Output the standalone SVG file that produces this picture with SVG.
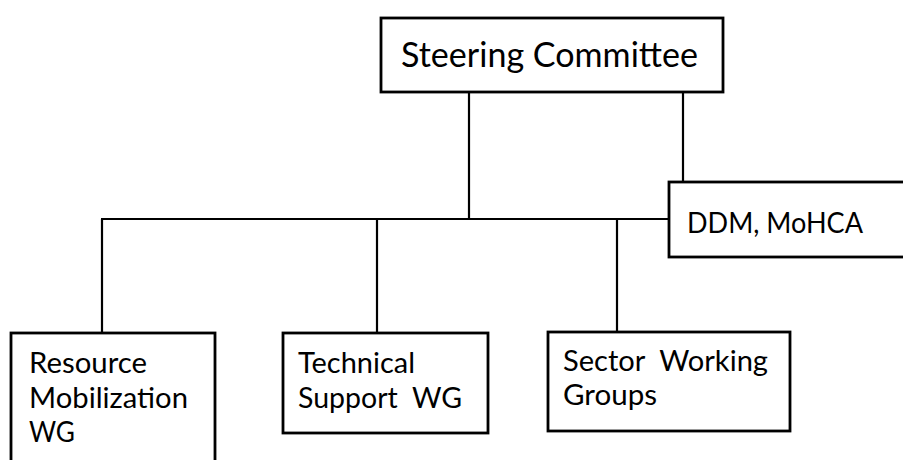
<svg xmlns="http://www.w3.org/2000/svg" width="903" height="460" viewBox="0 0 903 460">
<style>
.box{fill:#fff;stroke:#000;stroke-width:2.8}
.ln{stroke:#000;stroke-width:2.2;fill:none}
text{font-family:Lato,"Open Sans","Liberation Sans",sans-serif;fill:#000;white-space:pre}
.t1{font-size:34px}
.t2{font-size:29px}
.t3{font-size:28px}
</style>
<rect width="903" height="460" fill="#fff"/>
<g id="connectors">
<line class="ln" x1="469" y1="92" x2="469" y2="219"/>
<line class="ln" x1="683" y1="92" x2="683" y2="182"/>
<line class="ln" x1="101" y1="219" x2="669" y2="219"/>
<line class="ln" x1="102" y1="219" x2="102" y2="333"/>
<line class="ln" x1="377" y1="219" x2="377" y2="333"/>
<line class="ln" x1="617" y1="219" x2="617" y2="332"/>
</g>
<g id="steering">
<rect class="box" x="381" y="18" width="342" height="74"/>
<text class="t1" x="401" y="67" textLength="297" lengthAdjust="spacingAndGlyphs">Steering Committee</text>
</g>
<g id="ddm">
<rect class="box" x="669" y="182" width="240" height="75"/>
<text class="t2" x="687" y="233" textLength="176" lengthAdjust="spacingAndGlyphs">DDM, MoHCA</text>
</g>
<g id="resource">
<rect class="box" x="11" y="333" width="204" height="140"/>
<text class="t2" x="29" y="373" textLength="118" lengthAdjust="spacingAndGlyphs">Resource</text>
<text class="t2" x="29" y="408" textLength="159" lengthAdjust="spacingAndGlyphs">Mobilization</text>
<text class="t2" x="29" y="442" textLength="46" lengthAdjust="spacingAndGlyphs">WG</text>
</g>
<g id="technical">
<rect class="box" x="283" y="333" width="205" height="100"/>
<text class="t2" x="298" y="373" textLength="117" lengthAdjust="spacingAndGlyphs">Technical</text>
<text class="t2" x="298" y="408" textLength="164" lengthAdjust="spacingAndGlyphs">Support  WG</text>
</g>
<g id="sector">
<rect class="box" x="548" y="332" width="242" height="99"/>
<text class="t3" x="563" y="371" textLength="205" lengthAdjust="spacingAndGlyphs">Sector  Working</text>
<text class="t3" x="563" y="405" textLength="94" lengthAdjust="spacingAndGlyphs">Groups</text>
</g>
</svg>
